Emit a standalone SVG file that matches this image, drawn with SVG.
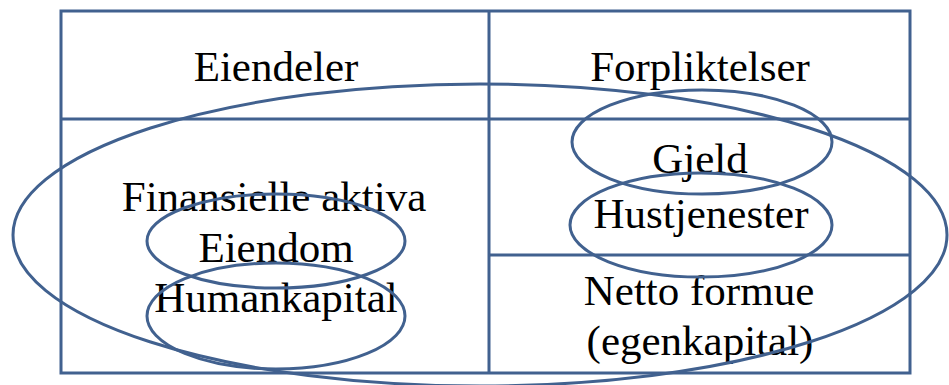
<svg xmlns="http://www.w3.org/2000/svg" width="949" height="385" viewBox="0 0 949 385">
<style>
.ln{fill:none;stroke:#41618f;stroke-width:3}
.t{font-family:"Liberation Serif","Times New Roman",serif;font-size:43px;fill:#000;text-anchor:middle}
</style>
<rect width="949" height="385" fill="#fff"/>
<g id="table">
<rect class="ln" x="61" y="11" width="849" height="362"/>
<line class="ln" x1="489" y1="11" x2="489" y2="373"/>
<line class="ln" x1="61" y1="119" x2="910" y2="119"/>
<line class="ln" x1="489" y1="255" x2="910" y2="255"/>
</g>
<g id="labels">
<text class="t" x="276" y="81">Eiendeler</text>
<text class="t" x="700" y="81">Forpliktelser</text>
<text class="t" x="274" y="211">Finansielle aktiva</text>
<text class="t" x="276" y="262">Eiendom</text>
<text class="t" x="276" y="312">Humankapital</text>
<text class="t" x="700" y="173">Gjeld</text>
<text class="t" x="701" y="228">Hustjenester</text>
<text class="t" x="699" y="305">Netto formue</text>
<text class="t" x="700" y="355">(egenkapital)</text>
</g>
<g id="ellipses">
<ellipse id="big" class="ln" cx="480" cy="235" rx="467" ry="151"/>
<ellipse id="gjeld" class="ln" cx="702" cy="142" rx="130" ry="52"/>
<ellipse id="hustjenester" class="ln" cx="701" cy="225" rx="131" ry="52"/>
<ellipse id="eiendom" class="ln" cx="276" cy="241" rx="129" ry="47"/>
<ellipse id="humankapital" class="ln" cx="276" cy="316" rx="129" ry="53"/>
</g>
</svg>
